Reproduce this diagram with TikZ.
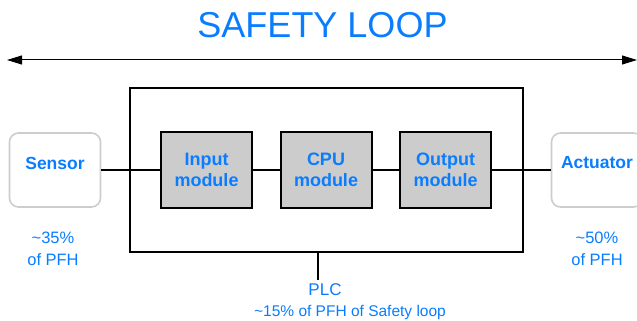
\documentclass[tikz,border=0pt]{standalone}
\usepackage{fontspec}
\setmainfont{Liberation Sans}
\usetikzlibrary{arrows.meta}
\definecolor{txtblue}{RGB}{10,125,255}
\definecolor{modgray}{RGB}{204,204,204}
\definecolor{edgegray}{RGB}{205,205,205}
\tikzset{
  module/.style={draw=black, line width=2pt, fill=modgray, minimum width=91pt, minimum height=76pt, inner sep=0pt,
    align=center, font=\fontsize{18}{21}\selectfont\bfseries, text=txtblue},
  device/.style={draw=edgegray, line width=1.6pt, rounded corners=9pt, fill=white, minimum width=91pt, minimum height=74pt, inner sep=0pt},
  devlabel/.style={font=\fontsize{17.5}{21}\selectfont\bfseries, text=txtblue},
  note/.style={align=center, font=\fontsize{16.5}{22}\selectfont, text=txtblue},
  wire/.style={line width=2pt, black},
}
\begin{document}
\begin{tikzpicture}[x=1pt,y=-1pt]
\useasboundingbox (0,0) rectangle (637,321);
\begin{scope}
\clip (0,0) rectangle (637,321);
% title and arrow
\node[font=\fontsize{36}{40}\selectfont, text=txtblue, anchor=base] (title) at (322.5,38) {SAFETY LOOP};
\coordinate (al) at (7,60);
\coordinate (ar) at (637,60);
\draw[line width=1pt, {Triangle[length=15pt,width=9pt]}-{Triangle[length=15pt,width=9pt]}] (al) -- (ar);
% PLC box
\node[draw=black, line width=2pt, minimum width=393pt, minimum height=164pt, inner sep=0pt] (plc) at (326,170) {};
% devices
\node[device] (sensor) at (55,170) {};
\node[devlabel] (sensorlbl) at (55,163) {Sensor};
\node[device] (actuator) at (597,170) {};
\node[devlabel] (actlbl) at (597,163) {Actuator};
% modules
\node[module] (in) at (206.5,170) {Input\\module};
\node[module] (cpu) at (326,170) {CPU\\module};
\node[module] (out) at (445.5,170) {Output\\module};
% wires
\draw[wire] (sensor.east) -- (in.west);
\draw[wire] (in.east) -- (cpu.west);
\draw[wire] (cpu.east) -- (out.west);
\draw[wire] (out.east) -- (actuator.west);
\coordinate (plcend) at (318,280);
\draw[wire] (plc.south -| plcend) -- (plcend);
% notes
\node[note] (sn) at (53,249) {\textasciitilde35\%\\of PFH};
\node[note] (an) at (597,249) {\textasciitilde50\%\\of PFH};
\node[note, font=\fontsize{17}{21}\selectfont] (pn) at (325,290) {PLC};
\node[note, font=\fontsize{15.5}{21}\selectfont] (pn2) at (350,312) {\textasciitilde15\% of PFH of Safety loop};
\end{scope}
\end{tikzpicture}
\end{document}
